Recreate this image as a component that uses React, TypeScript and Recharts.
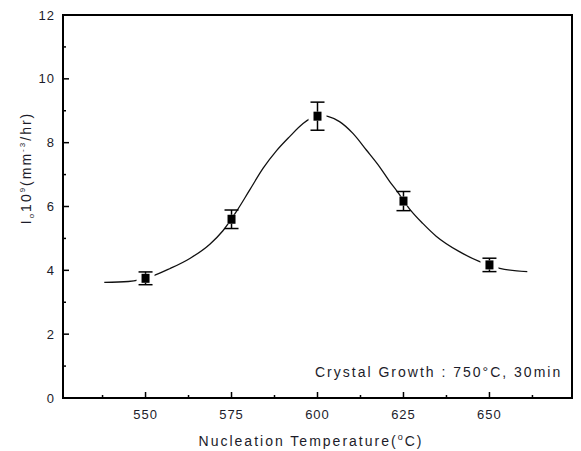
import { ComposedChart, Line, Scatter, ErrorBar, XAxis, YAxis, ReferenceArea } from "recharts";

// measured nucleation rate points with error bars
const temps = [550, 575, 600, 625, 650];
const rates = [3.75, 5.6, 8.83, 6.17, 4.17];
const errs = [0.2, 0.29, 0.44, 0.3, 0.21];

// fitted curve
const fitTemps = [538, 545, 552, 557, 563, 568.7, 572.5, 576.4, 580.3, 584.2, 588.1, 591.9, 595.8, 598, 600.5, 603, 606.4, 610.3, 614.2, 618, 621, 623, 626.8, 630.6, 634.5, 641, 647, 653, 661];
const fitRates = [3.62, 3.65, 3.82, 4.05, 4.38, 4.82, 5.24, 5.84, 6.52, 7.2, 7.75, 8.19, 8.6, 8.76, 8.86, 8.82, 8.66, 8.29, 7.77, 7.25, 6.78, 6.5, 5.92, 5.47, 5.07, 4.6, 4.28, 4.06, 3.96];

const xTicks = [537.5, 550, 562.5, 575, 587.5, 600, 612.5, 625, 637.5, 650, 662.5];
const xLabels = [550, 575, 600, 625, 650];
const yTicks = [0, 1, 2, 3, 4, 5, 6, 7, 8, 9, 10, 11, 12];
const yLabels = [0, 2, 4, 6, 8, 10, 12];

const points = temps.map((t, i) => ({ x: t, y: rates[i], err: errs[i] }));
const fit = fitTemps.map((t, i) => ({ x: t, y: fitRates[i] }));

const FONT = '"Liberation Sans", Arial, sans-serif';
const TXT = "#1c1c2a";

const XTick = (props: any) => {
    const { x, y, payload } = props;
    const major = xLabels.includes(payload.value);
    return (
        <g>
            <line x1={x} x2={x} y1={y} y2={y - (major ? 6 : 3)} stroke="#000" strokeWidth={1.5} />
            {major && (
                <text x={x} y={y + 21} textAnchor="middle" fontSize={13} letterSpacing={1} fill={TXT} fontFamily={FONT}>
                    {payload.value}
                </text>
            )}
        </g>
    );
};

const YTick = (props: any) => {
    const { x, y, payload } = props;
    const major = yLabels.includes(payload.value);
    return (
        <g>
            <line x1={x} x2={x + (major ? 6 : 3)} y1={y} y2={y} stroke="#000" strokeWidth={1.5} />
            {major && (
                <text x={x - 8} y={y + 4.5} textAnchor="end" fontSize={13} letterSpacing={1} fill={TXT} fontFamily={FONT}>
                    {payload.value}
                </text>
            )}
        </g>
    );
};

const XTitle = () => (
    <text x={311} y={446} textAnchor="middle" fontSize={14} letterSpacing={2} fill={TXT} fontFamily={FONT}>
        <tspan>Nucleation Temperature(</tspan>
        <tspan fontSize={9} dy={-6}>o</tspan>
        <tspan dy={6}>C)</tspan>
    </text>
);

const YTitle = () => (
    <text transform="translate(31,168) rotate(-90)" textAnchor="middle" fontSize={14} letterSpacing={2} fill={TXT} fontFamily={FONT}>
        <tspan>I</tspan>
        <tspan fontSize={8} dy={3}>o</tspan>
        <tspan dy={-3}>10</tspan>
        <tspan fontSize={8} dy={-6}>9</tspan>
        <tspan dy={6}>(mm</tspan>
        <tspan fontSize={8} dy={-6}>-3</tspan>
        <tspan dy={6}>/hr)</tspan>
    </text>
);

const Marker = (props: any) => {
    const { cx, cy } = props;
    return (
        <g>
            <rect x={cx - 9} y={cy - 4.5} width={18} height={9} fill="#fff" />
            <rect x={cx - 4} y={cy - 4.5} width={8} height={9} fill="#000" />
        </g>
    );
};

export default function App() {
    return (
        <div style={{ position: "absolute", left: 0, top: 0, width: 581, height: 451, background: "#fff" }}>
            <ComposedChart width={581} height={451} margin={{ top: 15, right: 9, bottom: 0, left: 0 }}>
                <XAxis
                    dataKey="x"
                    type="number"
                    domain={[526, 674]}
                    ticks={xTicks}
                    interval={0}
                    allowDataOverflow
                    height={53}
                    axisLine={false}
                    tickLine={false}
                    tickSize={0}
                    tickMargin={0}
                    tick={<XTick />}
                    label={<XTitle />}
                />
                <YAxis
                    type="number"
                    domain={[0, 12]}
                    ticks={yTicks}
                    interval={0}
                    width={63}
                    axisLine={false}
                    tickLine={false}
                    tickSize={0}
                    tickMargin={0}
                    tick={<YTick />}
                    label={<YTitle />}
                />
                <ReferenceArea x1={526} x2={674} y1={0} y2={12} fill="none" stroke="#000" strokeWidth={2} />
                <Line data={fit} dataKey="y" type="monotone" stroke="#111" strokeWidth={1.3} dot={false} isAnimationActive={false} />
                <Scatter data={points} dataKey="y" shape={<Marker />} isAnimationActive={false}>
                    <ErrorBar dataKey="err" direction="y" width={7} stroke="#000" strokeWidth={1.5} />
                </Scatter>
            </ComposedChart>
            <div
                style={{
                    position: "absolute",
                    left: 315,
                    top: 365,
                    fontFamily: FONT,
                    fontSize: 14,
                    lineHeight: "14px",
                    letterSpacing: 2,
                    color: TXT,
                    whiteSpace: "nowrap",
                }}
            >
                Crystal Growth : 750°C, 30min
            </div>
        </div>
    );
}
